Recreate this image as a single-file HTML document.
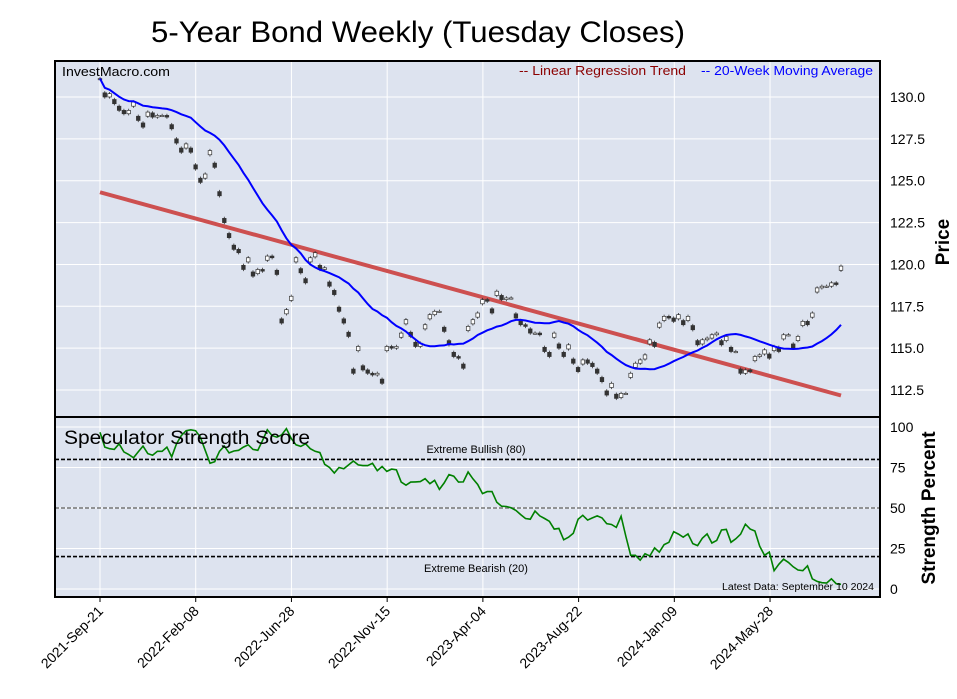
<!DOCTYPE html>
<html><head><meta charset="utf-8"><style>
body{margin:0;background:#fff;width:957px;height:694px;overflow:hidden;font-family:"Liberation Sans",sans-serif}
svg text{font-family:"Liberation Sans",sans-serif}
</style></head><body>
<svg id="chart" width="957" height="694">
<text x="418" y="42" font-size="30" text-anchor="middle" textLength="534" lengthAdjust="spacingAndGlyphs">5-Year Bond Weekly (Tuesday Closes)</text>
<rect x="55" y="61" width="825" height="536" fill="#dde3ef"/>
<g id="grid"></g>
<g id="marks"></g>
<rect x="55" y="61" width="825" height="536" fill="none" stroke="#000" stroke-width="2"/>
<line x1="55" y1="417" x2="880" y2="417" stroke="#000" stroke-width="2"/>
<text x="62" y="76" font-size="13" textLength="108" lengthAdjust="spacingAndGlyphs">InvestMacro.com</text>
<text x="686" y="75" font-size="13" fill="#8b0000" text-anchor="end" textLength="167" lengthAdjust="spacingAndGlyphs">-- Linear Regression Trend</text>
<text x="873" y="75" font-size="13" fill="#0000ff" text-anchor="end" textLength="172" lengthAdjust="spacingAndGlyphs">-- 20-Week Moving Average</text>
<text x="64" y="444" font-size="19" textLength="246" lengthAdjust="spacingAndGlyphs">Speculator Strength Score</text>
<text x="476" y="453" font-size="11" text-anchor="middle">Extreme Bullish (80)</text>
<text x="476" y="572" font-size="11" text-anchor="middle">Extreme Bearish (20)</text>
<text x="874" y="590" font-size="10" text-anchor="end" textLength="152" lengthAdjust="spacingAndGlyphs">Latest Data: September 10 2024</text>
<text transform="translate(949,242) rotate(-90)" font-size="19" font-weight="bold" text-anchor="middle">Price</text>
<text transform="translate(935,508) rotate(-90)" font-size="19" font-weight="bold" text-anchor="middle">Strength Percent</text>
</svg>
<script>
const priceTicks=[112.5,115,117.5,120,122.5,125,127.5,130];
const strengthTicks=[0,25,50,75,100];
const dateLabels=["2021-Sep-21","2022-Feb-08","2022-Jun-28","2022-Nov-15","2023-Apr-04","2023-Aug-22","2024-Jan-09","2024-May-28"];
const dateWeeks=[0,20,40,60,80,100,120,140];
const closes=[131.1,130.0,130.2,129.6,129.2,129.0,129.2,129.7,128.6,128.2,129.1,128.8,128.9,128.9,128.8,128.1,127.25,126.7,127.2,126.7,125.7,124.9,125.4,126.8,125.8,124.1,122.5,121.6,120.9,120.7,119.7,120.4,119.3,119.7,119.6,120.5,120.4,119.4,116.5,117.3,118.1,120.4,119.5,118.9,120.4,120.7,119.7,119.8,118.7,118.2,117.2,116.5,115.7,113.5,115.1,113.7,113.5,113.4,113.5,112.9,115.1,115.0,115.1,115.9,116.7,115.7,115.1,115.3,116.4,117.0,117.2,117.2,116.0,115.2,114.5,114.4,113.8,116.3,116.7,117.1,117.9,117.8,117.1,118.4,117.9,118.0,118.0,116.8,116.4,116.3,115.9,115.9,115.8,114.8,114.5,115.9,115.0,114.5,115.2,114.1,113.6,114.3,114.1,113.9,113.5,113.0,112.2,112.9,112.0,112.3,112.3,113.5,114.1,114.3,114.6,115.5,115.1,116.5,116.9,116.8,116.6,117.0,116.4,116.9,116.1,115.2,115.5,115.6,115.8,115.9,115.2,115.7,114.8,114.8,113.5,113.7,113.6,114.5,114.6,114.9,114.4,115.1,114.8,115.8,115.8,115.0,115.7,116.6,116.4,117.1,118.6,118.7,118.7,118.9,118.8,119.9];
const strength=[96.7,87.6,86.6,86.2,89.6,84.6,83,81,84.6,88.2,83.6,82.6,85,85,87.6,81.6,89.6,94.7,97.7,98.3,97.7,93.7,85.6,77.6,78.6,85,88.2,84,85.2,85.6,87.6,89,86.2,85.6,91.6,98.3,94.7,93.7,95.1,99,93,89,88,89.6,86.6,85,84.2,77,75,71.6,75,74.2,76.6,79,76.6,76.2,76.2,77.6,73,75.6,72.6,74,73.6,66,64.1,66,66.1,66.3,68.1,65,67.1,61.5,65.5,70.6,69.6,66,66.1,72.2,68,64.5,58.9,60.1,60.1,53.5,51.1,50.9,50.1,48.5,45.9,43.5,43.1,48.1,45.1,43.5,41.8,37,37.4,30.4,32,34.4,43.1,45.5,42.5,43.9,45.1,43.9,40.4,39.8,38,44.9,32.4,20.8,20.8,17.8,21.8,20.4,25.4,22.7,27.4,28.8,35.4,33.9,32,34,28,26.8,31.4,34,28.4,30,36.4,36.8,28.8,31,33.8,40,37,35.8,26.4,20.8,22.8,11.3,15.3,18.4,16.4,13.7,11.7,11.3,14.3,6.3,4.7,3.9,3.7,6.3,3.3,2.9];

const NS='http://www.w3.org/2000/svg';
function mk(t,a,p){const e=document.createElementNS(NS,t);for(const k in a)e.setAttribute(k,a[k]);p.appendChild(e);return e;}
const grid=document.getElementById('grid'),marks=document.getElementById('marks'),svg=document.getElementById('chart');
const weekX=w=>100+w*4.786;
const xp=(i,n)=>100+i*(841-100)/(n-1);
const py=v=>97+(130-v)/2.5*41.86;
const sy=v=>589-v*1.62;

priceTicks.forEach(t=>{
 const l=mk('line',{x1:55,x2:880,y1:py(t),y2:py(t),stroke:'#fff','stroke-width':1},grid);
 
 
 const tx=mk('text',{x:890,y:py(t)+5,'font-size':14},svg);tx.textContent=t.toFixed(1);
 
 
});
strengthTicks.forEach(t=>{
 const l=mk('line',{x1:55,x2:880,y1:sy(t),y2:sy(t),stroke:'#fff','stroke-width':1},grid);
 
 
 const tx=mk('text',{x:890,y:sy(t)+5,'font-size':14},svg);tx.textContent=t;
 
 
});
dateWeeks.forEach((w,k)=>{
 const x=weekX(w);
 const l=mk('line',{x1:x,x2:x,y1:61,y2:597,stroke:'#fff','stroke-width':1},grid);
 
 
 const tk=mk('line',{x1:x,x2:x,y1:597,y2:602,stroke:'#000'},svg);
 
 
 const tx=mk('text',{x:x+4,y:612,'font-size':14,'text-anchor':'end',transform:`rotate(-45 ${x+4} 612)`},svg);
 tx.textContent=dateLabels[k];
 
 
});
[[80,'#000','extreme-bullish-line'],[50,'#777','midline-50'],[20,'#000','extreme-bearish-line']].forEach(([v,c,nm])=>{
 const l=mk('line',{x1:55,x2:880,y1:sy(v),y2:sy(v),stroke:c,'stroke-width':1.6,'stroke-dasharray':'4,2'},grid);
 
 
});
const n=closes.length;let sx=0,syy=0,sxy=0,sxx=0;
closes.forEach((c,i)=>{sx+=i;syy+=c;sxy+=i*c;sxx+=i*i;});
const b=(n*sxy-sx*syy)/(n*sxx-sx*sx),a=(syy-b*sx)/n;
const reg=mk('line',{x1:xp(0,n),y1:py(a),x2:xp(n-1,n),y2:py(a+b*(n-1)),stroke:'#cd5050','stroke-width':4},marks);


closes.forEach((c,i)=>{
 const o=i>0?closes[i-1]:c;
 let top=Math.max(o,c),bot=Math.min(o,c);
 if(top-bot>0.25){if(c>o){bot=c-0.25;top=c;}else{top=c+0.25;bot=c;}}
 const x=xp(i,n);
 const w=mk('line',{x1:x,x2:x,y1:py(top+0.1),y2:py(bot-0.1),stroke:'#333','stroke-width':0.8},marks);
 
 
 const h=Math.max(py(bot)-py(top),1.2);
 const r=mk('rect',{x:x-1.8,y:py(top),width:3.6,height:h,fill:c>=o?'#fff':'#333',stroke:'#333','stroke-width':0.7},marks);
 
 
});
let d='';
closes.forEach((c,i)=>{const s=closes.slice(Math.max(0,i-19),i+1);const m=s.reduce((p,q)=>p+q,0)/s.length;d+=(i?'L':'M')+xp(i,n).toFixed(1)+','+py(m).toFixed(1);});
const ma=mk('path',{d:d,fill:'none',stroke:'#0000ff','stroke-width':2},marks);


let d2='';const m2=strength.length;
strength.forEach((v,i)=>{d2+=(i?'L':'M')+xp(i,m2).toFixed(1)+','+sy(v).toFixed(1);});
const st=mk('path',{d:d2,fill:'none',stroke:'#008000','stroke-width':1.6},marks);


</script>
</body></html>
